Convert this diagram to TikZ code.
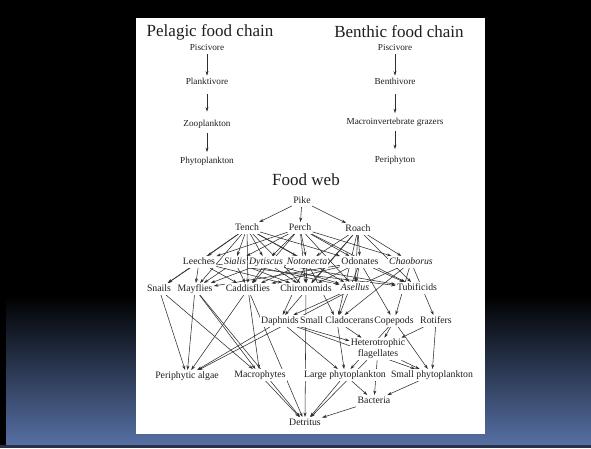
\documentclass[tikz,border=0pt]{standalone}
\usepackage{fontspec}
\setmainfont{Liberation Serif}
\usetikzlibrary{arrows.meta}
\pgfdeclarelayer{bg}
\pgfdeclarelayer{edges}
\pgfsetlayers{bg,edges,main}
\definecolor{slidebot}{RGB}{86,112,164}
\definecolor{slidemid}{RGB}{30,39,57}
\definecolor{slideline}{RGB}{40,48,74}
\definecolor{ink}{RGB}{30,30,30}
\begin{document}
\begin{tikzpicture}[x=1pt,y=-1pt,
  title/.style={font=\fontsize{17}{18}\selectfont, text=ink, inner sep=0pt},
  chain/.style={font=\fontsize{9.2}{10}\selectfont, text=ink, inner sep=2pt, text height=6.5pt, text depth=2pt},
  webbase/.style={font=\fontsize{9.8}{10.8}\selectfont, text=ink, fill=white, inner sep=1.2pt},
  web/.style={webbase, text height=7pt, text depth=2.2pt},
  webit/.style={web, font=\fontsize{9.8}{10.8}\selectfont\itshape},
  arr/.style={-{Stealth[length=4.5pt,width=3pt]}, line width=0.55pt, draw=black!82},
]
\useasboundingbox (0,0) rectangle (591,448);
\begin{pgfonlayer}{bg}
\fill[black] (0,0) rectangle (591,448);
\shade[top color=black, middle color=slidemid, bottom color=slidebot] (6,296) rectangle (591,445);
\fill[slideline] (0,445) rectangle (591,448);
\fill[white] (136,18) rectangle (485,434);
\end{pgfonlayer}

% titles
\node[title] (tpel) at (210,32) {Pelagic food chain};
\node[title] (tben) at (399,32) {Benthic food chain};
\node[title] (tweb) at (306,180) {Food web};

% chains
\node[chain] (pp) at (207,48) {Piscivore};
\node[chain] (pl) at (207,82) {Planktivore};
\node[chain] (pz) at (207,124) {Zooplankton};
\node[chain] (pf) at (207,161) {Phytoplankton};
\node[chain] (bp) at (395,48) {Piscivore};
\node[chain] (bb) at (395,82) {Benthivore};
\node[chain] (bm) at (395,122) {Macroinvertebrate grazers};
\node[chain] (bf) at (395,160) {Periphyton};
\draw[arr] (pp) -- (pl);
\draw[arr, shorten <=6pt, shorten >=6pt] (pl) -- (pz);
\draw[arr, shorten <=3pt, shorten >=2.5pt] (pz) -- (pf);
\draw[arr] (bp) -- (bb);
\draw[arr, shorten <=5.5pt, shorten >=2.5pt] (bb) -- (bm);
\draw[arr, shorten <=2.5pt, shorten >=4.5pt] (bm) -- (bf);

% food web nodes
\node[web] (pike) at (302,201) {Pike};
\node[web] (tench) at (247,228) {Tench};
\node[web] (perch) at (300,228) {Perch};
\node[web] (roach) at (358,229) {Roach};
\node[web] (leeches) at (199,262) {Leeches};
\node[webit] (sialis) at (235,262) {Sialis};
\node[webit] (dytiscus) at (266,262) {Dytiscus};
\node[webit] (notonecta) at (307,262) {Notonecta};
\node[web] (odonates) at (360,262) {Odonates};
\node[webit] (chaoborus) at (411,262) {Chaoborus};
\node[web] (snails) at (159,289) {Snails};
\node[web] (mayflies) at (195,289) {Mayflies};
\node[web] (caddis) at (248,289) {Caddisflies};
\node[web] (chiro) at (306,289) {Chironomids};
\node[webit] (asellus) at (355,288) {Asellus};
\node[web] (tubif) at (417,288) {Tubificids};
\node[web] (daphnids) at (280,321) {Daphnids};
\node[web] (smallclad) at (337,321) {Small Cladocerans};
\node[web] (copepods) at (394,321) {Copepods};
\node[web] (rotifers) at (436,321) {Rotifers};
\node[webbase, align=center] (hetflag) at (378,349) {Heterotrophic\\flagellates};
\node[web] (periph) at (187,376) {Periphytic algae};
\node[web] (macro) at (260,375) {Macrophytes};
\node[web] (largephyto) at (345,375) {Large phytoplankton};
\node[web] (smallphyto) at (432,375) {Small phytoplankton};
\node[web] (bacteria) at (374,401) {Bacteria};
\node[web] (detritus) at (305,423) {Detritus};

\begin{pgfonlayer}{edges}
\foreach \a/\b in {
  pike/tench, pike/perch, pike/roach,
  tench/leeches, tench/sialis, tench/dytiscus, tench/notonecta, tench/odonates,
  tench/snails, tench/mayflies, tench/caddis, tench/chiro, tench/asellus,
  perch/leeches, perch/sialis, perch/dytiscus, perch/notonecta, perch/odonates,
  perch/chaoborus, perch/caddis, perch/chiro, perch/asellus, perch/tubif,
  roach/notonecta, roach/odonates, roach/chaoborus, roach/chiro, roach/asellus,
  roach/tubif, roach/smallclad, roach/daphnids,
  leeches/snails, leeches/mayflies, leeches/caddis, leeches/chiro, leeches/tubif,
  sialis/mayflies, sialis/caddis, sialis/chiro, sialis/asellus,
  dytiscus/mayflies, dytiscus/caddis, dytiscus/chiro, dytiscus/asellus, dytiscus/tubif,
  notonecta/caddis, notonecta/chiro, notonecta/daphnids, notonecta/smallclad,
  odonates/mayflies, odonates/caddis, odonates/chiro, odonates/asellus, odonates/tubif,
  odonates/smallclad, odonates/copepods,
  chaoborus/daphnids, chaoborus/smallclad, chaoborus/copepods, chaoborus/rotifers,
  snails/periph, snails/macro,
  mayflies/periph, mayflies/macro, mayflies/detritus,
  caddis/periph, caddis/macro, caddis/detritus,
  chiro/detritus, asellus/periph,
  daphnids/periph, daphnids/largephyto, daphnids/hetflag, daphnids/smallphyto,
  smallclad/largephyto, smallclad/hetflag,
  copepods/largephyto, copepods/hetflag, copepods/smallphyto,
  rotifers/hetflag, rotifers/smallphyto,
  hetflag/smallphyto, hetflag/bacteria, hetflag/detritus,
  largephyto/bacteria, largephyto/detritus,
  smallphyto/bacteria, macro/detritus, bacteria/detritus}
  \draw[arr] (\a) -- (\b);
\end{pgfonlayer}
\end{tikzpicture}
\end{document}
